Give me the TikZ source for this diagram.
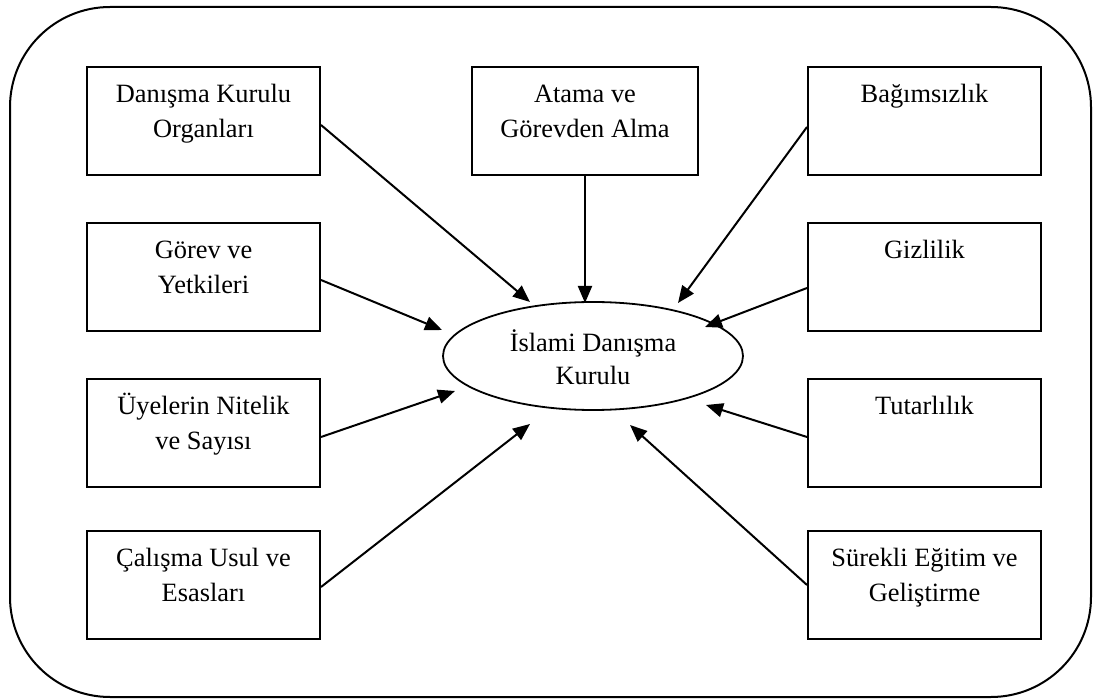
\documentclass[tikz,border=0pt]{standalone}
\usepackage{fontspec}
\setmainfont{Liberation Serif}
\usetikzlibrary{arrows.meta,calc,shapes.geometric}
\newcommand\twolines[2]{\begin{tabular}[t]{@{}c@{}}#1\\#2\end{tabular}}
\begin{document}
\begin{tikzpicture}[x=0.5pt,y=-0.5pt,
  box/.style={draw, line width=1pt, inner sep=0pt, minimum width=116.5pt,
    text height=17.75pt, text depth=36.25pt,
    font=\fontsize{13.2pt}{17.3pt}\selectfont},
  ell/.style={ellipse, draw, line width=0.9pt, inner sep=0pt,
    minimum width=150pt, minimum height=54pt, text height=10pt, text depth=14pt,
    font=\fontsize{13.2pt}{16.5pt}\selectfont},
  arr/.style={line width=1pt, -{Triangle[length=8.5pt,width=7pt]}},
  frame/.style={draw, line width=1pt, rounded corners=50pt}
]
\useasboundingbox (0,0) rectangle (1094,700);
\draw[frame] (10,7) rectangle (1091,697);

% left column
\node[box] (b1) at (203.5,121) {\twolines{Danışma Kurulu}{Organları}};
\node[box] (b2) at (203.5,277) {\twolines{Görev ve}{Yetkileri}};
\node[box] (b3) at (203.5,433) {\twolines{Üyelerin Nitelik}{ve Sayısı}};
\node[box] (b4) at (203.5,585) {\twolines{Çalışma Usul ve}{Esasları}};
% middle
\node[box, minimum width=113pt] (b5) at (585,121) {\twolines{Atama ve}{Görevden Alma}};
% right column
\node[box] (b6) at (924.5,121) {Bağımsızlık};
\node[box] (b7) at (924.5,277) {Gizlilik};
\node[box] (b8) at (924.5,433) {Tutarlılık};
\node[box] (b9) at (924.5,585) {\twolines{Sürekli Eğitim ve}{Geliştirme}};

% centre
\node[ell] (e) at (593,356) {\twolines{İslami Danışma}{Kurulu}};

% arrow tips
\coordinate (c1) at (530,302);
\coordinate (c2) at (442,330);
\coordinate (c3) at (455,391);
\coordinate (c4) at (530,424);
\coordinate (c5) at (585,303);
\coordinate (c6) at (678,303);
\coordinate (c7) at (705,327);
\coordinate (c8) at (706,405);
\coordinate (c9) at (630,425);

\draw[arr] ($(b1.east)+(0,4)$) -- (c1);
\draw[arr] ($(b2.east)+(0,3)$) -- (c2);
\draw[arr] ($(b3.east)+(0,4)$) -- (c3);
\draw[arr] ($(b4.east)+(0,2)$) -- (c4);
\draw[arr] (b5.south) -- (c5);
\draw[arr] ($(b6.west)+(0,6)$) -- (c6);
\draw[arr] ($(b7.west)+(0,11)$) -- (c7);
\draw[arr] ($(b8.west)+(0,4)$) -- (c8);
\draw[arr] (b9.west) -- (c9);
\end{tikzpicture}
\end{document}
